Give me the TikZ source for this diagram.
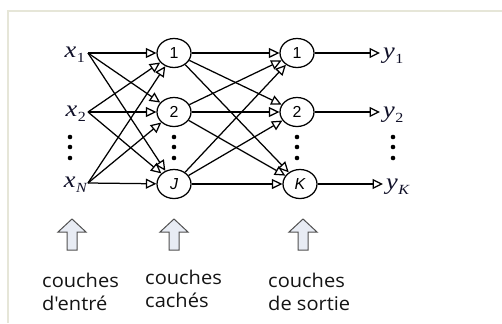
\documentclass[tikz,border=0pt]{standalone}
\usepackage{fontspec}
\setmainfont{Liberation Serif}
\newfontfamily\lblfont{Open Sans}
\newfontfamily\nodefont{Liberation Sans}
\usetikzlibrary{arrows.meta,shapes.geometric}
\definecolor{framec}{HTML}{E6E6D8}
\definecolor{blockfill}{HTML}{E8ECF4}
\definecolor{blockline}{HTML}{505050}
\definecolor{inkc}{HTML}{101028}
\tikzset{
  neuron/.style={ellipse, draw, line width=1.25bp, minimum width=34bp, minimum height=29bp, inner sep=0pt,
     font=\nodefont\fontsize{16}{16}\selectfont},
  conn/.style={line width=1.25bp, -{Triangle[open,length=10.5bp,width=10bp]}},
  varlbl/.style={inner sep=0pt, text=inkc},
  lbl/.style={inner sep=0pt, anchor=base west, align=left, text=black!92,
     font=\lblfont\fontsize{19}{23}\selectfont},
  blockarr/.style={fill=blockfill, draw=blockline, line width=1bp, line join=miter},
  dotc/.style={fill=black}
}
\newcommand{\xlab}[1]{\scalebox{1.15}[1]{\fontsize{23}{23}\selectfont\itshape x\kern0.5bp\raisebox{-5bp}{\fontsize{14}{14}\selectfont #1}}}
\newcommand{\ylab}[1]{\scalebox{1.15}[1]{\fontsize{23}{23}\selectfont\itshape y\kern0.5bp\raisebox{-5bp}{\fontsize{14}{14}\selectfont #1}}}
\begin{document}
\begin{tikzpicture}[x=1bp,y=-1bp]
\useasboundingbox (0,0) rectangle (502,323);
% frame
\draw[framec, line width=1.5bp] (8,323) -- (8,11) -- (502,11);
% inputs
\coordinate (ix1) at (88,53);
\coordinate (ix2) at (88,112);
\coordinate (ixN) at (88,183);
\node[varlbl, anchor=east] (lx1) at (85,55) {\xlab{\upshape 1}};
\node[varlbl, anchor=east] (lx2) at (86,114) {\xlab{\upshape 2}};
\node[varlbl, anchor=east] (lxN) at (87,185) {\xlab{N}};
% hidden
\node[neuron] (h1) at (174,53) {1};
\node[neuron] (h2) at (174,112) {2};
\node[neuron] (hJ) at (174,184) {\itshape J};
% output
\node[neuron] (o1) at (297,53) {1};
\node[neuron] (o2) at (297,112) {2};
\node[neuron] (oK) at (300,184) {\itshape K};
% output label points
\coordinate (ey1) at (380,53);
\coordinate (ey2) at (380,112);
\coordinate (eyK) at (383,184);
\node[varlbl, anchor=west] (ly1) at (383,56) {\ylab{\upshape 1}};
\node[varlbl, anchor=west] (ly2) at (383,115) {\ylab{\upshape 2}};
\node[varlbl, anchor=west] (lyK) at (386,187) {\ylab{K}};
% connections
\foreach \s in {ix1,ix2,ixN}{
  \foreach \t in {h1,h2,hJ}{
    \draw[conn] (\s) -- (\t);
  }
}
\foreach \s in {h1,h2,hJ}{
  \foreach \t in {o1,o2,oK}{
    \draw[conn] (\s) -- (\t);
  }
}
\draw[conn] (o1) -- (ey1);
\draw[conn] (o2) -- (ey2);
\draw[conn] (oK) -- (eyK);
% dots
\foreach \xx in {70,174,297,393}{
  \foreach \yy in {137,147,158}{
    \fill[dotc] (\xx,\yy) circle (2.3bp);
  }
}
% block arrows
\foreach \cx in {72,174,303}{
  \draw[blockarr] (\cx,219) -- (\cx+14,232) -- (\cx+5,232) -- (\cx+5,250) -- (\cx-5,250) -- (\cx-5,232) -- (\cx-14,232) -- cycle;
}
% labels
\node[lbl] (t1) at (42,287) {\scalebox{1.06}[1]{couches}};
\node[lbl] (t1b) at (42,310) {\scalebox{1.06}[1]{d'entré}};
\node[lbl] (t2) at (145,284) {\scalebox{1.06}[1]{couches}};
\node[lbl] (t2b) at (145,307) {\scalebox{1.06}[1]{cachés}};
\node[lbl] (t3) at (268,287) {\scalebox{1.06}[1]{couches}};
\node[lbl] (t3b) at (268,310) {\scalebox{1.06}[1]{de sortie}};
\end{tikzpicture}
\end{document}
